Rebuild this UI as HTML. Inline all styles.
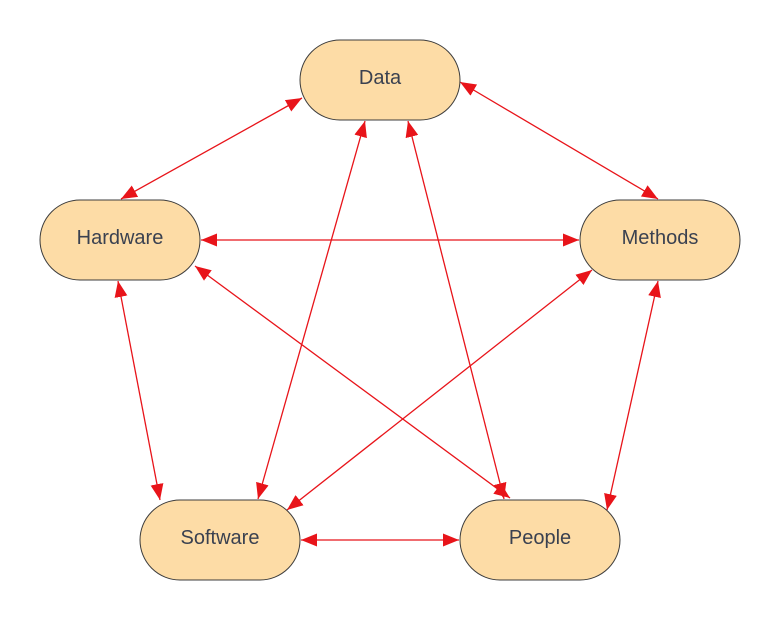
<!DOCTYPE html>
<html><head><meta charset="utf-8"><style>
html,body{margin:0;padding:0;background:#fff;}
svg{display:block}
text{font-family:"Liberation Sans",sans-serif;font-size:20px;fill:#3a4150;text-anchor:middle;dominant-baseline:central}
</style></head><body>
<svg width="780" height="620" viewBox="0 0 780 620" xmlns="http://www.w3.org/2000/svg">
<defs>
<marker id="a" viewBox="0 0 16 13" refX="16" refY="6.5" markerWidth="16" markerHeight="13" markerUnits="userSpaceOnUse" orient="auto-start-reverse">
<path d="M0,0 L16,6.5 L0,13 z" fill="#e8141a"/>
</marker>
</defs>
<g stroke="#e8141a" stroke-width="1.3" fill="none" marker-start="url(#a)" marker-end="url(#a)">
<line x1="302" y1="98" x2="121" y2="199"/>
<line x1="460" y1="82" x2="658" y2="199"/>
<line x1="201" y1="240" x2="579" y2="240"/>
<line x1="365" y1="121" x2="258" y2="499"/>
<line x1="408" y1="121" x2="504" y2="499"/>
<line x1="195" y1="266" x2="510" y2="498"/>
<line x1="592" y1="270" x2="287" y2="510"/>
<line x1="118" y1="281" x2="160" y2="500"/>
<line x1="658" y1="281" x2="607" y2="510"/>
<line x1="301" y1="540" x2="459" y2="540"/>
</g>
<g fill="#fddca6" stroke="#3d3d3d" stroke-width="1">
<rect x="300" y="40" width="160" height="80" rx="40"/>
<rect x="40" y="200" width="160" height="80" rx="40"/>
<rect x="580" y="200" width="160" height="80" rx="40"/>
<rect x="140" y="500" width="160" height="80" rx="40"/>
<rect x="460" y="500" width="160" height="80" rx="40"/>
</g>
<text x="380" y="78">Data</text>
<text x="120" y="238">Hardware</text>
<text x="660" y="238">Methods</text>
<text x="220" y="538">Software</text>
<text x="540" y="538">People</text>
</svg>
</body></html>
